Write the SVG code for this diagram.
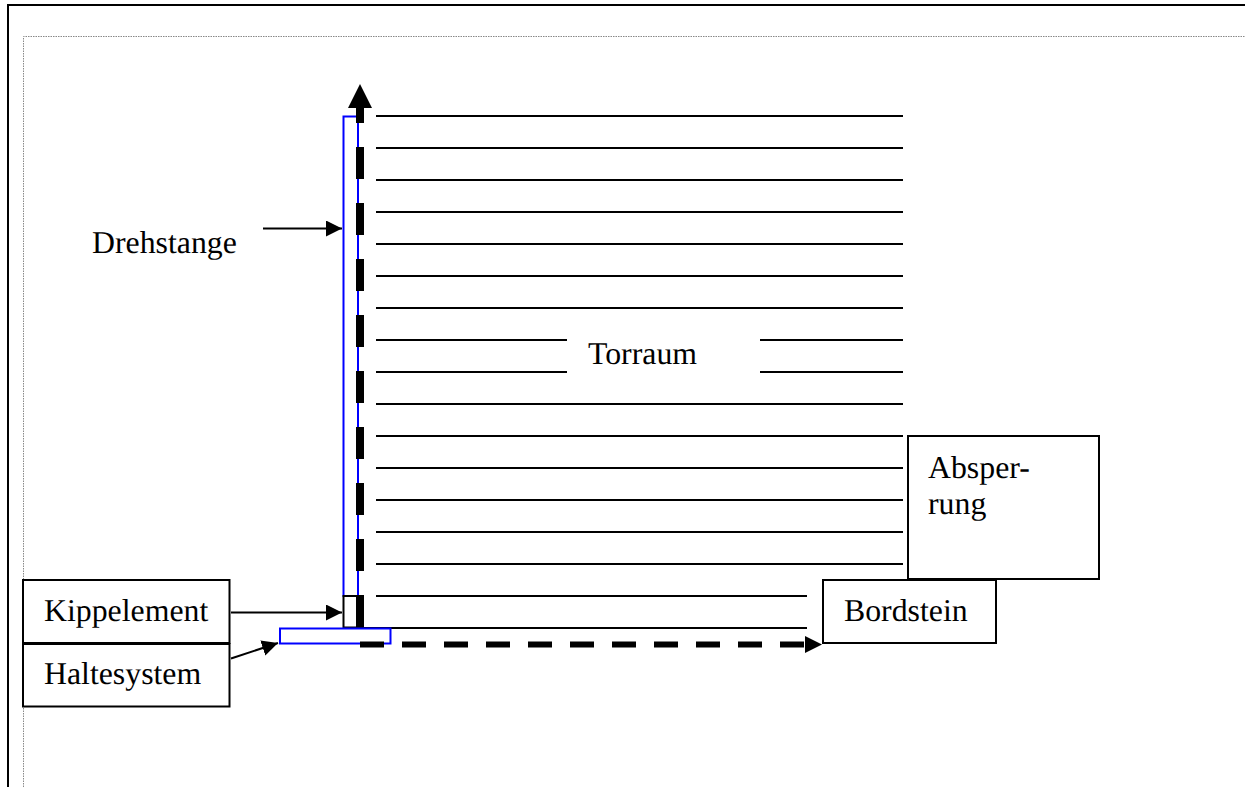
<svg xmlns="http://www.w3.org/2000/svg" width="1245" height="787" viewBox="0 0 1245 787">
<style>
.box{fill:#fff;stroke:#000;stroke-width:2}
.blue{fill:#fff;stroke:#00f;stroke-width:2}
.h{stroke:#000;stroke-width:2;fill:none}
.a{stroke:#000;stroke-width:2;fill:none;marker-end:url(#thin)}
text{font-family:"Liberation Serif","Times New Roman",serif;font-size:31.8px;fill:#000;text-rendering:geometricPrecision}
</style>
<defs>
<marker id="thin" markerUnits="userSpaceOnUse" markerWidth="18" markerHeight="18" refX="16" refY="8" orient="auto"><polygon points="0,0 16,8 0,16" fill="#000"/></marker>
</defs>
<rect width="1245" height="787" fill="#fff"/>
<g id="frame">
<path d="M8 787V5H1245" fill="none" stroke="#000" stroke-width="2"/>
<path d="M23.500 787V36.500H1245" fill="none" stroke="#888" stroke-width="1" stroke-dasharray="1.500 1"/>
</g>
<g id="torraum">
<path class="h" d="M376 116H903M376 148H903M376 180H903M376 212H903M376 244H903M376 276H903M376 308H903M376 340H567M760 340H903M376 372H567M760 372H903M376 404H903M376 436H903M376 468H903M376 500H903M376 532H903M376 564H903M376 596H807M358 628H807"/>
<text x="588" y="364">Torraum</text>
</g>
<g id="drehstange">
<rect class="blue" x="343.500" y="116.500" width="14.500" height="479.500"/>
<text x="92" y="253">Drehstange</text>
</g>
<g id="kippelement-teil"><rect x="343.500" y="596" width="15.500" height="31.500" fill="#fff" stroke="#000" stroke-width="2"/></g>
<g id="haltesystem-teil"><rect class="blue" x="280" y="628.500" width="110.500" height="15"/></g>
<g id="connectors">
<path d="M360 627V108" fill="none" stroke="#000" stroke-width="8" stroke-dasharray="32 24"/>
<polygon points="360,84 348,108 372,108" fill="#000"/>
<path d="M360 644.500H806" fill="none" stroke="#000" stroke-width="6" stroke-dasharray="24 18"/>
<polygon points="822,644.500 805,636 805,653" fill="#000"/>
<line class="a" x1="263" y1="228.500" x2="342" y2="228.500"/>
<line class="a" x1="231" y1="612.500" x2="342" y2="612.500"/>
<line class="a" x1="231" y1="658.500" x2="278" y2="643"/>
</g>
<g id="kippelement"><rect class="box" x="23" y="580" width="206.500" height="63"/><text x="44" y="621">Kippelement</text></g>
<g id="haltesystem"><rect class="box" x="23" y="644" width="206.500" height="62.500"/><text x="44" y="684">Haltesystem</text></g>
<g id="absperrung"><rect class="box" x="908" y="436" width="191" height="143"/><text x="928" y="478">Absper-</text><text x="928" y="514">rung</text></g>
<g id="bordstein"><rect class="box" x="823" y="580" width="173" height="63"/><text x="844" y="620.500">Bordstein</text></g>
</svg>
